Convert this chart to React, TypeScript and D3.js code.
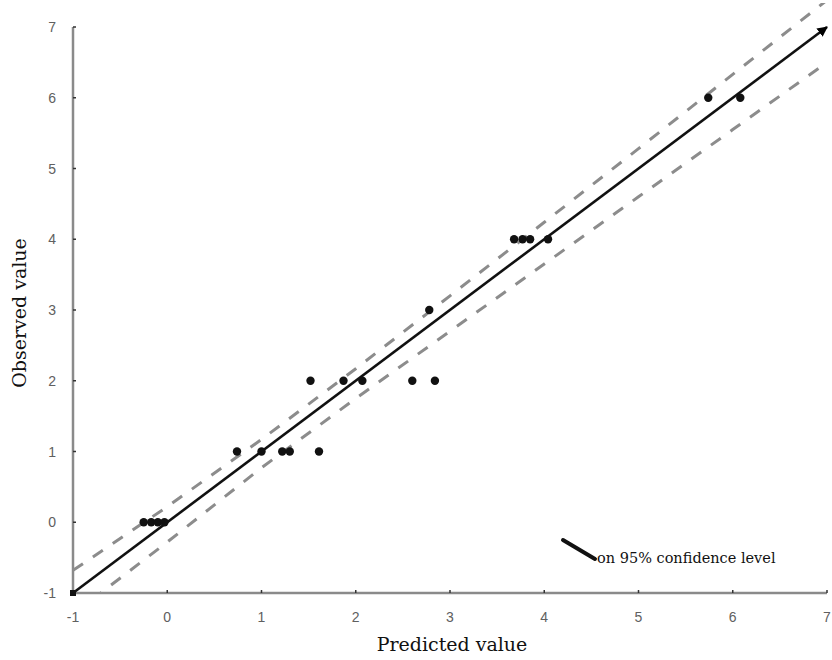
import * as d3 from "d3";

// observed points (predicted, observed)
const predX = [
  -0.25, -0.17, -0.1, -0.03,
  0.74, 1.0, 1.22, 1.3, 1.61,
  1.52, 1.87, 2.07, 2.6, 2.84,
  2.78,
  3.68, 3.77, 3.85, 4.04,
  5.74, 6.08,
];
const obsY = [
  0, 0, 0, 0,
  1, 1, 1, 1, 1,
  2, 2, 2, 2, 2,
  3,
  4, 4, 4, 4,
  6, 6,
];

// fitted line and 95% band
const fitX = [-1, 7];
const fitY = [-1, 7];
const bandX = [-1, 0, 1, 2, 3, 4, 5, 6, 7];
const bandUpper = [-0.68, 0.22, 1.17, 2.17, 3.2, 4.24, 5.28, 6.33, 7.38];
const bandLower = [-1.3, -0.28, 0.77, 1.75, 2.7, 3.65, 4.6, 5.55, 6.5];

const xTicks = [-1, 0, 1, 2, 3, 4, 5, 6, 7];
const yTicks = [-1, 0, 1, 2, 3, 4, 5, 6, 7];

const W = 832;
const H = 660;

export default function App() {
  const x = d3.scaleLinear().domain([-1, 7]).range([73, 827]);
  const y = d3.scaleLinear().domain([-1, 7]).range([593, 27]);

  const line = d3
    .line<[number, number]>()
    .x((d) => x(d[0]))
    .y((d) => y(d[1]));

  const fit = line(fitX.map((v, i) => [v, fitY[i]]) as [number, number][]);
  const upper = line(bandX.map((v, i) => [v, bandUpper[i]]) as [number, number][]);
  const lower = line(bandX.map((v, i) => [v, bandLower[i]]) as [number, number][]);

  const tickFont = "'Liberation Sans', Arial, sans-serif";
  const serif = "'DejaVu Serif', serif";

  return (
    <svg
      width={W}
      height={H}
      style={{ position: "absolute", left: 0, top: 0, background: "#fff" }}
    >
      <defs>
        <clipPath id="plot">
          <rect x={x(-1)} y={3} width={x(7) - x(-1)} height={y(-1) - 3} />
        </clipPath>
        <marker
          id="arrow"
          viewBox="0 0 10 10"
          refX="9"
          refY="5"
          markerWidth="4"
          markerHeight="4"
          orient="auto"
        >
          <path d="M0,0 L10,5 L0,10 z" fill="#000" />
        </marker>
      </defs>

      {/* axes */}
      <line x1={x(-1)} x2={x(-1)} y1={y(7)} y2={y(-1)} stroke="#8a8a8a" strokeWidth={2.5} />
      <line x1={x(-1)} x2={x(7)} y1={y(-1)} y2={y(-1)} stroke="#8a8a8a" strokeWidth={2.5} />
      {xTicks.map((t) => (
        <g key={"x" + t}>
          <line x1={x(t)} x2={x(t)} y1={y(-1) - 3} y2={y(-1)} stroke="#333" strokeWidth={1.5} />
          <text
            x={x(t)}
            y={y(-1) + 29}
            textAnchor="middle"
            fontFamily={tickFont}
            fontSize={14}
            fill="#606060"
          >
            {t}
          </text>
        </g>
      ))}
      {yTicks.map((t) => (
        <g key={"y" + t}>
          <line x1={x(-1)} x2={x(-1) + 3} y1={y(t)} y2={y(t)} stroke="#333" strokeWidth={1.5} />
          <text
            x={x(-1) - 17}
            y={y(t) + 5}
            textAnchor="end"
            fontFamily={tickFont}
            fontSize={14}
            fill="#606060"
          >
            {t}
          </text>
        </g>
      ))}

      {/* confidence band */}
      <g clipPath="url(#plot)">
        <path d={upper || ""} fill="none" stroke="#8c8c8c" strokeWidth={3} strokeDasharray="12,12" />
        <path d={lower || ""} fill="none" stroke="#8c8c8c" strokeWidth={3} strokeDasharray="12,12" />
      </g>

      {/* fitted line */}
      <path d={fit || ""} fill="none" stroke="#111" strokeWidth={2.6} markerEnd="url(#arrow)" />
      <rect x={x(-1) - 3} y={y(-1) - 3} width={6} height={6} fill="#111" />

      {/* points */}
      {predX.map((v, i) => (
        <circle key={"p" + i} cx={x(v)} cy={y(obsY[i])} r={4.2} fill="#111" />
      ))}

      {/* legend */}
      <path d="M563,540 L595,559" stroke="#111" strokeWidth={4} strokeLinecap="round" />
      <text x={597} y={563} fontFamily={serif} fontSize={14.5} fill="#111">
        on 95% confidence level
      </text>

      {/* axis titles */}
      <text
        x={(x(-1) + x(7)) / 2 + 2}
        y={651}
        textAnchor="middle"
        fontFamily={serif}
        fontSize={19}
        fill="#111"
      >
        Predicted value
      </text>
      <text
        transform={`translate(26,${313}) rotate(-90)`}
        textAnchor="middle"
        fontFamily={serif}
        fontSize={19}
        fill="#111"
      >
        Observed value
      </text>
    </svg>
  );
}
